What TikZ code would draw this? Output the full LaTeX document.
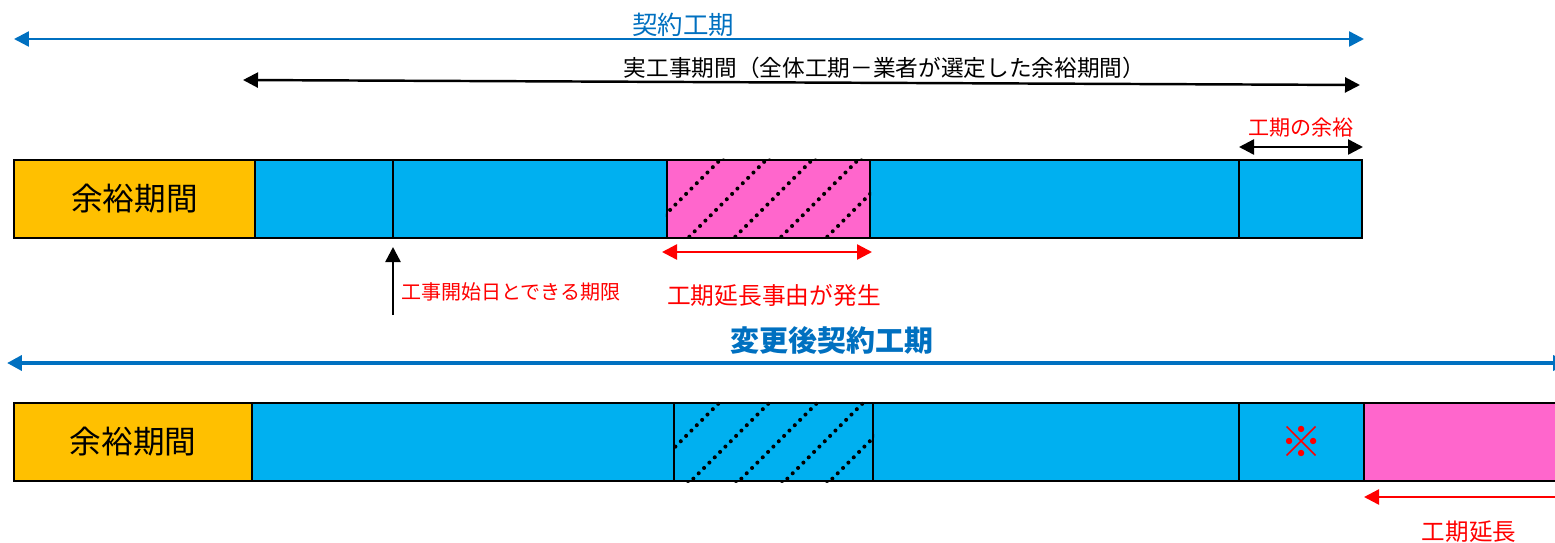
\documentclass[tikz,border=0pt]{standalone}
\usepackage{fontspec}
\setmainfont{Noto Sans CJK JP}
\usetikzlibrary{arrows.meta}
\definecolor{barblue}{RGB}{0,176,240}
\definecolor{baryellow}{RGB}{255,192,0}
\definecolor{barpink}{RGB}{255,102,204}
\definecolor{lineblue}{RGB}{0,112,192}
\definecolor{txtred}{RGB}{255,0,0}
\newcommand\fsz[1]{\fontsize{#1}{#1}\selectfont}

\begin{document}
\begin{tikzpicture}[x=0.02cm,y=0.02cm,
	seg/.style={shape=rectangle,draw=black,line width=1.3pt,minimum height=1.56cm,inner sep=0pt},
	hatch/.style={line width=2.3pt,dash pattern=on 0pt off 4.3pt,line cap=round},
	both/.style={{Triangle[length=0.3cm,width=0.3cm]}-{Triangle[length=0.3cm,width=0.3cm]}},
	one/.style={-{Triangle[length=0.3cm,width=0.3cm]}},
	redtxt/.style={text=txtred,inner sep=0pt}]

	\useasboundingbox (0,0) rectangle (1555,-542);

	% upper bar
	\node[seg,fill=baryellow,minimum width=4.82cm] (t1) at (134.5,-199) {\fsz{18pt}余裕期間};
	\node[seg,fill=barblue,minimum width=2.76cm] (t2) at (324,-199) {};
	\node[seg,fill=barblue,minimum width=5.48cm] (t3) at (530,-199) {};
	\node[seg,fill=barpink,minimum width=4.06cm] (t4) at (768.5,-199) {};
	\node[seg,fill=barblue,minimum width=7.38cm] (t5) at (1054.5,-199) {};
	\node[seg,fill=barblue,minimum width=2.46cm] (t6) at (1300.5,-199) {};

	\begin{scope}
		\clip (t4.south west) rectangle (t4.north east);
		\foreach \x in {642,688,734,780,826}
			\draw[hatch] (\x-20,-258) -- (\x+110,-128);
	\end{scope}

	% lower bar
	\node[seg,fill=baryellow,minimum width=4.76cm] (b1) at (133,-442) {\fsz{18pt}余裕期間};
	\node[seg,fill=barblue,minimum width=8.44cm] (b2) at (463,-442) {};
	\node[seg,fill=barblue,minimum width=3.98cm] (b3) at (773.5,-442) {};
	\node[seg,fill=barblue,minimum width=7.32cm] (b4) at (1056,-442) {};
	\node[seg,fill=barblue,minimum width=2.5cm] (b5) at (1301.5,-442) {\fsz{24pt}\bfseries\textcolor{txtred}{※}};
	\node[seg,fill=barpink,minimum width=4.22cm] (b6) at (1469.5,-442) {};

	\begin{scope}
		\clip (b3.south west) rectangle (b3.north east);
		\foreach \x in {642,692,740,786,831}
			\draw[hatch] (\x-20,-500) -- (\x+110,-370);
	\end{scope}

	% arrow ends
	\coordinate (kL) at (14,-39);
	\coordinate (kR) at (1364,-39);
	\coordinate (jL) at (243,-80);
	\coordinate (jR) at (1360,-85);
	\coordinate (yL) at (1239,-147);
	\coordinate (yR) at (1363,-147);
	\coordinate (eL) at (662,-252);
	\coordinate (eR) at (872,-252);
	\coordinate (sB) at (393,-315);
	\coordinate (sT) at (393,-247);
	\coordinate (hL) at (7,-363);
	\coordinate (hR) at (1568,-363);
	\coordinate (nR) at (1570,-497);
	\coordinate (nL) at (1364,-497);

	\draw[both, lineblue, line width=1.4pt] (kL) -- (kR);
	\draw[both, black, line width=1.4pt] (jL) -- (jR);
	\draw[both, black, line width=1.4pt] (yL) -- (yR);
	\draw[both, txtred, line width=1.4pt] (eL) -- (eR);
	\draw[one, black, line width=1.4pt] (sB) -- (sT);
	\draw[both, lineblue, line width=2.3pt] (hL) -- (hR);
	\draw[one, txtred, line width=1.4pt] (nR) -- (nL);

	% labels
	\node[text=lineblue,inner sep=0pt] (keiyaku) at (683,-25) {\fsz{14.5pt}契約工期};
	\node[inner sep=0pt] (jitsu) at (884.5,-68) {\fsz{12.9pt}実工事期間（全体工期－業者が選定した余裕期間）};
	\node[redtxt] (yoyu) at (1301,-128) {\fsz{12pt}工期の余裕};
	\node[redtxt] (jiyuu) at (774,-295) {\fsz{13.5pt}工期延長事由が発生};
	\node[redtxt,anchor=west] (kaishi) at (401,-292) {\fsz{11.4pt}工事開始日とできる期限};
	\node[text=lineblue,inner sep=0pt] (henkou) at (832,-340) {\fsz{16.5pt}\bfseries 変更後契約工期};
	\node[redtxt] (encho) at (1469,-532) {\fsz{13.4pt}工期延長};

\end{tikzpicture}
\end{document}
